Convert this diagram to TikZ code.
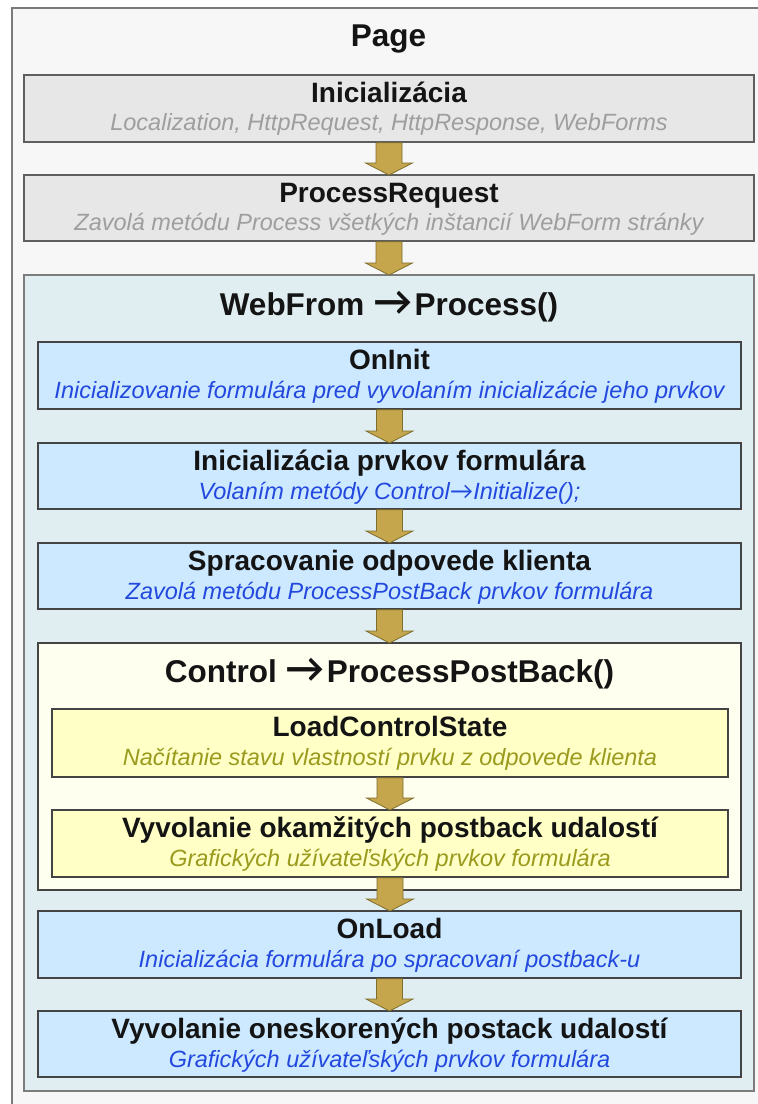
\documentclass[tikz,border=0pt]{standalone}
\usepackage{fontspec}
\usepackage{graphicx}
\setmainfont{Liberation Sans}
\newfontfamily\arrowfnt{Lato}
\usetikzlibrary{calc}
\definecolor{pagebg}{HTML}{F7F7F7}
\definecolor{pageline}{HTML}{7A7A7A}
\definecolor{grayfill}{HTML}{E7E7E7}
\definecolor{grayline}{HTML}{5E5E5E}
\definecolor{graytext}{HTML}{9E9E9E}
\definecolor{webfill}{HTML}{E1EEF1}
\definecolor{webline}{HTML}{7C7C7C}
\definecolor{bluefill}{HTML}{CCE9FF}
\definecolor{blueline}{HTML}{444444}
\definecolor{bluetext}{HTML}{2248DE}
\definecolor{ctrlfill}{HTML}{FFFFEF}
\definecolor{yelfill}{HTML}{FFFFC6}
\definecolor{yeltext}{HTML}{9A9A1E}
\definecolor{arrfill}{HTML}{C6A64C}
\definecolor{arrline}{HTML}{7E6E2C}
\newcommand\headfnt{\fontsize{31.5}{36}\selectfont\bfseries}
\newcommand\titlefnt{\fontsize{28}{32}\selectfont\bfseries}
\newcommand\subfnt{\fontsize{23.5}{28}\selectfont\itshape}
\newcommand\rarr{\scalebox{1.25}[1.25]{\arrowfnt\bfseries →}\hspace{2pt}}
\tikzset{
  boxbase/.style={rectangle, inner sep=0pt, outer sep=0pt, anchor=north west, line width=1.5pt},
  pagebox/.style={boxbase, draw=pageline, fill=pagebg},
  graybox/.style={boxbase, draw=grayline, fill=grayfill},
  webbox/.style={boxbase, draw=webline, fill=webfill},
  bluebox/.style={boxbase, draw=blueline, fill=bluefill},
  ctrlbox/.style={boxbase, draw=blueline, fill=ctrlfill},
  yelbox/.style={boxbase, draw=blueline, fill=yelfill},
  headtxt/.style={anchor=base, inner sep=0pt, font=\headfnt, text=black!92},
  ttl/.style={anchor=base, inner sep=0pt, font=\titlefnt, text=black!92},
  graysub/.style={anchor=base, inner sep=0pt, font=\subfnt, text=graytext},
  bluesub/.style={anchor=base, inner sep=0pt, font=\subfnt, text=bluetext},
  yelsub/.style={anchor=base, inner sep=0pt, font=\subfnt, text=yeltext},
  flowarrow/.style={fill=arrfill, draw=arrline, line width=0.8pt, line join=miter},
}
\newcommand\flowarr[2]{%
  \path[flowarrow] let \p1=(#1.south), \p2=(#2.north) in
    (\x1-13pt,\y1-0.8pt) -- (\x1-13pt,\y2+12pt) -- (\x1-23.5pt,\y2+12pt) -- (\x1,\y2)
    -- (\x1+23.5pt,\y2+12pt) -- (\x1+13pt,\y2+12pt) -- (\x1+13pt,\y1-0.8pt) -- cycle;}
\newcommand\twoline[5]{%
  \node[ttl] (#1-t) at ($(#1.north)+(0,27)$) {#2};
  \node[#4] (#1-s) at ($(#1.north)+(0,#5)$) {#3};}
\begin{document}
\begin{tikzpicture}[x=1pt, y=-1pt]
\useasboundingbox (0,0) rectangle (758,1104);
\clip (0,0) rectangle (758,1104);
\fill[white] (0,0) rectangle (758,1104);
% page
\node[pagebox, minimum width=770pt, minimum height=1120pt] (page) at (12,8) {};
\node[headtxt] (page-t) at (388.5,46) {Page};
% top gray boxes
\node[graybox, minimum width=730pt, minimum height=67pt] (init) at (24,75) {};
\twoline{init}{Inicializácia}{Localization, HttpRequest, HttpResponse, WebForms}{graysub}{55}
\node[graybox, minimum width=730pt, minimum height=66pt] (preq) at (24,175) {};
\twoline{preq}{ProcessRequest}{Zavolá metódu Process všetkých inštancií WebForm stránky}{graysub}{55}
% webform container
\node[webbox, minimum width=730pt, minimum height=816pt] (web) at (24,275) {};
\node[headtxt] (web-t) at ($(web.north)+(0,40)$) {WebFrom \rarr Process()};
\node[bluebox, minimum width=703pt, minimum height=67pt] (oninit) at (38,342) {};
\twoline{oninit}{OnInit}{Inicializovanie formulára pred vyvolaním inicializácie jeho prvkov}{bluesub}{56}
\node[bluebox, minimum width=703pt, minimum height=66pt] (initprv) at (38,443) {};
\twoline{initprv}{Inicializácia prvkov formulára}{Volaním metódy Control{\arrowfnt →}Initialize();}{bluesub}{56}
\node[bluebox, minimum width=703pt, minimum height=66pt] (sprac) at (38,543) {};
\twoline{sprac}{Spracovanie odpovede klienta}{Zavolá metódu ProcessPostBack prvkov formulára}{bluesub}{56}
% control container
\node[ctrlbox, minimum width=703pt, minimum height=247pt] (ctrl) at (38,643) {};
\node[headtxt] (ctrl-t) at ($(ctrl.north)+(0,39)$) {Control \rarr ProcessPostBack()};
\node[yelbox, minimum width=676pt, minimum height=68pt] (lcs) at (52,709) {};
\twoline{lcs}{LoadControlState}{Načítanie stavu vlastností prvku z odpovede klienta}{yelsub}{56}
\node[yelbox, minimum width=676pt, minimum height=67pt] (okam) at (52,810) {};
\twoline{okam}{Vyvolanie okamžitých postback udalostí}{Grafických užívateľských prvkov formulára}{yelsub}{56}
% bottom blue boxes
\node[bluebox, minimum width=703pt, minimum height=67pt] (onload) at (38,911) {};
\twoline{onload}{OnLoad}{Inicializácia formulára po spracovaní postback-u}{bluesub}{56}
\node[bluebox, minimum width=703pt, minimum height=66pt] (onesk) at (38,1011) {};
\twoline{onesk}{Vyvolanie oneskorených postack udalostí}{Grafických užívateľských prvkov formulára}{bluesub}{56}
% arrows
\flowarr{init}{preq}
\flowarr{preq}{web}
\flowarr{oninit}{initprv}
\flowarr{initprv}{sprac}
\flowarr{sprac}{ctrl}
\flowarr{lcs}{okam}
\flowarr{okam}{onload}
\flowarr{onload}{onesk}
\end{tikzpicture}
\end{document}
